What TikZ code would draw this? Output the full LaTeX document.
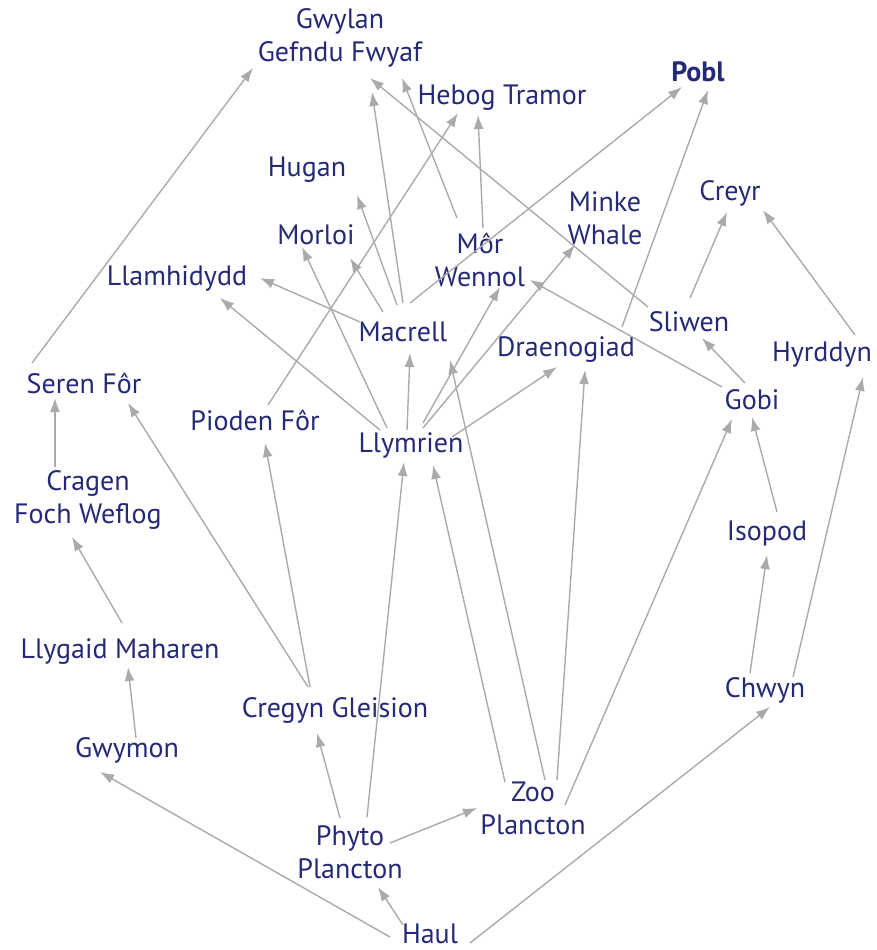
\documentclass[tikz,border=0pt]{standalone}
\usepackage{fontspec}
\setmainfont{PT Sans}
\usetikzlibrary{arrows.meta,calc}
\definecolor{txt}{RGB}{36,42,118}
\definecolor{arr}{RGB}{170,170,170}
\newcommand\fwarrow[6]{\draw[ed] ($(#1)+(#2)$) -- ($(#4)+(#5)$);}
\begin{document}
\begin{tikzpicture}[x=1pt,y=-1pt,
 sp/.style={text=txt, font=\fontsize{28}{33}\selectfont, align=center, inner sep=0pt},
 ed/.style={draw=arr, line width=1.4pt, -{Latex[length=14pt,width=10pt]}}]
\useasboundingbox (0,0) rectangle (877,950);
\node[sp] (gwylan) at (340,38) {Gwylan\\Gefndu Fwyaf};
\node[sp,font=\fontsize{28}{33}\selectfont\bfseries] (pobl) at (698,72) {Pobl};
\node[sp] (hebog) at (502,98) {Hebog Tramor};
\node[sp] (hugan) at (307,170) {Hugan};
\node[sp] (creyr) at (730,193) {Creyr};
\node[sp] (minke) at (605,218) {Minke\\Whale};
\node[sp] (morloi) at (316,235) {Morloi};
\node[sp] (mor) at (480,260) {Môr\\Wennol};
\node[sp] (llam) at (177,278) {Llamhidydd};
\node[sp] (macrell) at (403,332) {Macrell};
\node[sp] (sliwen) at (689,322) {Sliwen};
\node[sp] (draen) at (566,350) {Draenogiad};
\node[sp] (hyrddyn) at (822,355) {Hyrddyn};
\node[sp] (seren) at (84,383) {Seren Fôr};
\node[sp] (gobi) at (752,400) {Gobi};
\node[sp] (pioden) at (255,420) {Pioden Fôr};
\node[sp] (llym) at (411,445) {Llymrien};
\node[sp] (cragen) at (88,500) {Cragen\\Foch Weflog};
\node[sp] (isopod) at (767,533) {Isopod};
\node[sp] (llygaid) at (120,652) {Llygaid Maharen};
\node[sp] (chwyn) at (765,690) {Chwyn};
\node[sp] (cregyn) at (335,710) {Cregyn Gleision};
\node[sp] (gwymon) at (127,750) {Gwymon};
\node[sp] (zoo) at (533,808) {Zoo\\Plancton};
\node[sp] (phyto) at (350,852) {Phyto\\Plancton};
\node[sp] (haul) at (430,934) {Haul};
\fwarrow{haul}{-40,3}{}{gwymon}{-27,22}{}
\fwarrow{haul}{-27,-9}{}{phyto}{28,35}{}
\fwarrow{haul}{40,9}{}{chwyn}{5,17}{}
\fwarrow{phyto}{40,-9}{}{zoo}{-56,0}{}
\fwarrow{phyto}{-10,-34}{}{cregyn}{-18,23}{}
\fwarrow{phyto}{17,-35}{}{llym}{-7,17}{}
\fwarrow{zoo}{-28,-26}{}{llym}{22,20}{}
\fwarrow{zoo}{12,-28}{}{macrell}{47,28}{}
\fwarrow{zoo}{24,-28}{}{draen}{19,20}{}
\fwarrow{zoo}{32,-3}{}{gobi}{-20,19}{}
\fwarrow{cregyn}{-27,-23}{}{seren}{44,20}{}
\fwarrow{cregyn}{-25,-23}{}{pioden}{10,23}{}
\fwarrow{gwymon}{9,-12}{}{llygaid}{8,15}{}
\fwarrow{llygaid}{2,-29}{}{cragen}{-16,37}{}
\fwarrow{cragen}{-33,-33}{}{seren}{-29,15}{}
\fwarrow{seren}{-52,-20}{}{gwylan}{-87,30}{}
\fwarrow{pioden}{13,-15}{}{hebog}{-44,15}{}
\fwarrow{macrell}{0,-29}{}{gwylan}{32,54}{}
\fwarrow{macrell}{-6,-27}{}{hugan}{50,25}{}
\fwarrow{macrell}{-20,-20}{}{morloi}{34,23}{}
\fwarrow{macrell}{-43,-10}{}{llam}{83,0}{}
\fwarrow{macrell}{7,-29}{}{pobl}{-16,15}{}
\fwarrow{mor}{3,-32}{}{hebog}{-24,17}{}
\fwarrow{mor}{-23,-42}{}{gwylan}{62,40}{}
\fwarrow{sliwen}{-41,-15}{}{gwylan}{30,40}{}
\fwarrow{sliwen}{1,-24}{}{creyr}{-3,19}{}
\fwarrow{llym}{-24,-17}{}{morloi}{-14,12}{}
\fwarrow{llym}{-31,-15}{}{llam}{43,20}{}
\fwarrow{llym}{-4,-15}{}{macrell}{7,21}{}
\fwarrow{llym}{12,-22}{}{mor}{20,27}{}
\fwarrow{llym}{12,-17}{}{minke}{-30,27}{}
\fwarrow{llym}{41,-8}{}{draen}{-9,17}{}
\fwarrow{draen}{56,-23}{}{pobl}{10,18}{}
\fwarrow{gobi}{-30,-13}{}{mor}{50,20}{}
\fwarrow{gobi}{-7,-17}{}{sliwen}{13,16}{}
\fwarrow{hyrddyn}{33,-20}{}{creyr}{33,17}{}
\fwarrow{isopod}{10,-21}{}{gobi}{0,17}{}
\fwarrow{chwyn}{-15,-17}{}{isopod}{0,22}{}
\fwarrow{chwyn}{28,-13}{}{hyrddyn}{41,22}{}
\end{tikzpicture}
\end{document}
